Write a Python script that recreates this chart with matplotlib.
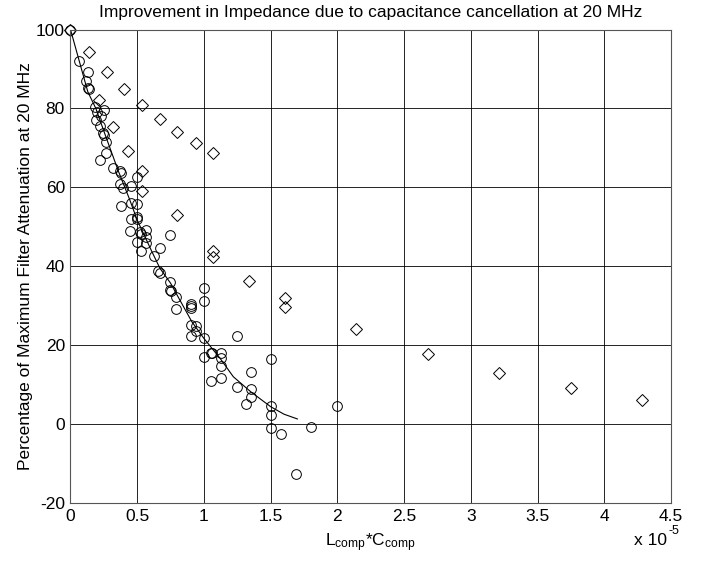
import matplotlib
matplotlib.use("Agg")
import matplotlib.pyplot as plt

# x values in units of 1e-5 (L_comp*C_comp), y in percent
circle_x = [0.0, 0.064, 0.129, 0.114, 0.129, 0.139, 0.184, 0.251, 0.196, 0.226,
            0.189, 0.224, 0.246, 0.25, 0.266, 0.264, 0.224, 0.316, 0.373, 0.376,
            0.501, 0.373, 0.396, 0.451, 0.376, 0.451, 0.501, 0.501, 0.451, 0.501,
            0.446, 0.521, 0.563, 0.529, 0.563, 0.748, 0.501, 0.563, 0.671, 0.526,
            0.628, 0.654, 0.671, 0.748, 0.748, 0.755, 0.789, 0.789, 0.903, 0.903,
            0.903, 1.001, 1.001, 0.90, 0.941, 0.941, 0.90, 1.001, 1.246, 1.001,
            1.051, 1.06, 1.126, 1.126, 1.126, 1.051, 1.126, 1.246, 1.50, 1.351,
            1.351, 1.351, 1.313, 1.50, 1.50, 1.50, 1.576, 1.80, 2.0, 1.688]
circle_y = [100.0, 92.1, 89.3, 87.0, 85.1, 84.8, 80.3, 79.6, 79.2, 78.2,
            77.1, 75.5, 73.8, 73.2, 71.6, 68.8, 66.9, 65.0, 64.1, 63.7,
            62.7, 60.8, 59.9, 60.4, 55.3, 56.1, 55.9, 52.5, 51.9, 51.9,
            48.9, 48.7, 49.3, 48.1, 47.3, 47.9, 46.2, 46.0, 44.5, 43.9,
            42.6, 38.9, 38.2, 36.1, 34.0, 33.7, 32.1, 29.2, 30.4, 29.9,
            29.4, 34.6, 31.1, 25.1, 24.9, 23.7, 22.3, 21.7, 22.4, 17.1,
            18.1, 17.9, 18.1, 16.7, 14.8, 11.0, 11.7, 9.3, 16.5, 13.3,
            8.8, 6.8, 5.1, 4.6, 2.3, -1.0, -2.5, -0.7, 4.7, -12.7]

diamond_x = [0.0, 0.139, 0.271, 0.403, 0.216, 0.536, 0.669, 0.321, 0.80, 0.938,
             1.071, 0.431, 0.536, 0.536, 0.80, 1.071, 1.071, 1.340, 1.608, 1.608,
             2.14, 2.677, 3.212, 3.75, 4.284]
diamond_y = [100.0, 94.4, 89.3, 84.9, 82.1, 80.9, 77.4, 75.2, 74.1, 71.3,
             68.8, 69.3, 64.1, 59.1, 53.1, 43.9, 42.3, 36.2, 31.9, 29.6,
             24.0, 17.8, 13.0, 9.2, 6.1]

fit_x = [0.0, 0.13, 0.19, 0.26, 0.36, 0.44, 0.50, 0.61, 0.67, 0.75,
         0.82, 0.91, 1.00, 1.12, 1.22, 1.35, 1.50, 1.60, 1.70]
fit_y = [100.0, 84.2, 80.0, 73.3, 64.0, 57.2, 51.7, 43.7, 39.5, 35.7,
         31.4, 25.9, 21.7, 16.7, 12.0, 8.2, 4.4, 2.5, 1.3]

x_ticks = [0, 0.5, 1, 1.5, 2, 2.5, 3, 3.5, 4, 4.5]
x_tick_labels = ["0", "0.5", "1", "1.5", "2", "2.5", "3", "3.5", "4", "4.5"]
y_ticks = [-20, 0, 20, 40, 60, 80, 100]

plt.rcParams["font.family"] = ["Liberation Sans", "DejaVu Sans"]
plt.rcParams["mathtext.fontset"] = "custom"
plt.rcParams["mathtext.rm"] = "Liberation Sans"
plt.rcParams["mathtext.it"] = "Liberation Sans"
plt.rcParams["axes.unicode_minus"] = False

fig = plt.figure(figsize=(7.02, 5.61), dpi=100)
ax = fig.add_axes([0.1004, 0.1034, 0.8556, 0.8440])

ax.grid(True, color="black", linewidth=0.6, linestyle="-")
ax.set_axisbelow(True)

ax.plot(fit_x, fit_y, color="black", linewidth=0.8)
ax.plot(circle_x, circle_y, linestyle="none", marker="o", markersize=7,
        markerfacecolor="none", markeredgecolor="black", markeredgewidth=0.7,
        clip_on=False)
ax.plot(diamond_x, diamond_y, linestyle="none", marker="D", markersize=5.8,
        markerfacecolor="none", markeredgecolor="black", markeredgewidth=0.7,
        clip_on=False)

ax.set_xlim(0, 4.5)
ax.set_ylim(-20, 100)
ax.set_xticks(x_ticks)
ax.set_xticklabels(x_tick_labels)
ax.set_yticks(y_ticks)
ax.tick_params(direction="in", length=0, labelsize=12.5, pad=4)
for sp in ax.spines.values():
    sp.set_color("#555555")
    sp.set_linewidth(0.8)

ax.set_title("Improvement in Impedance due to capacitance cancellation at 20 MHz",
             fontsize=12.5, pad=9)
ax.set_xlabel(r"L$_{\mathrm{comp}}$*C$_{\mathrm{comp}}$", fontsize=12.5, labelpad=6)
ax.set_ylabel("Percentage of Maximum Filter Attenuation at 20 MHz", fontsize=12.5,
              labelpad=2)
# axis multiplier, MATLAB style
fig.text(0.950, 0.0285, "x 10", fontsize=12.5, ha="right", va="baseline")
fig.text(0.952, 0.048, "-5", fontsize=9, ha="left", va="baseline")

fig.savefig("out.png", dpi=100)
